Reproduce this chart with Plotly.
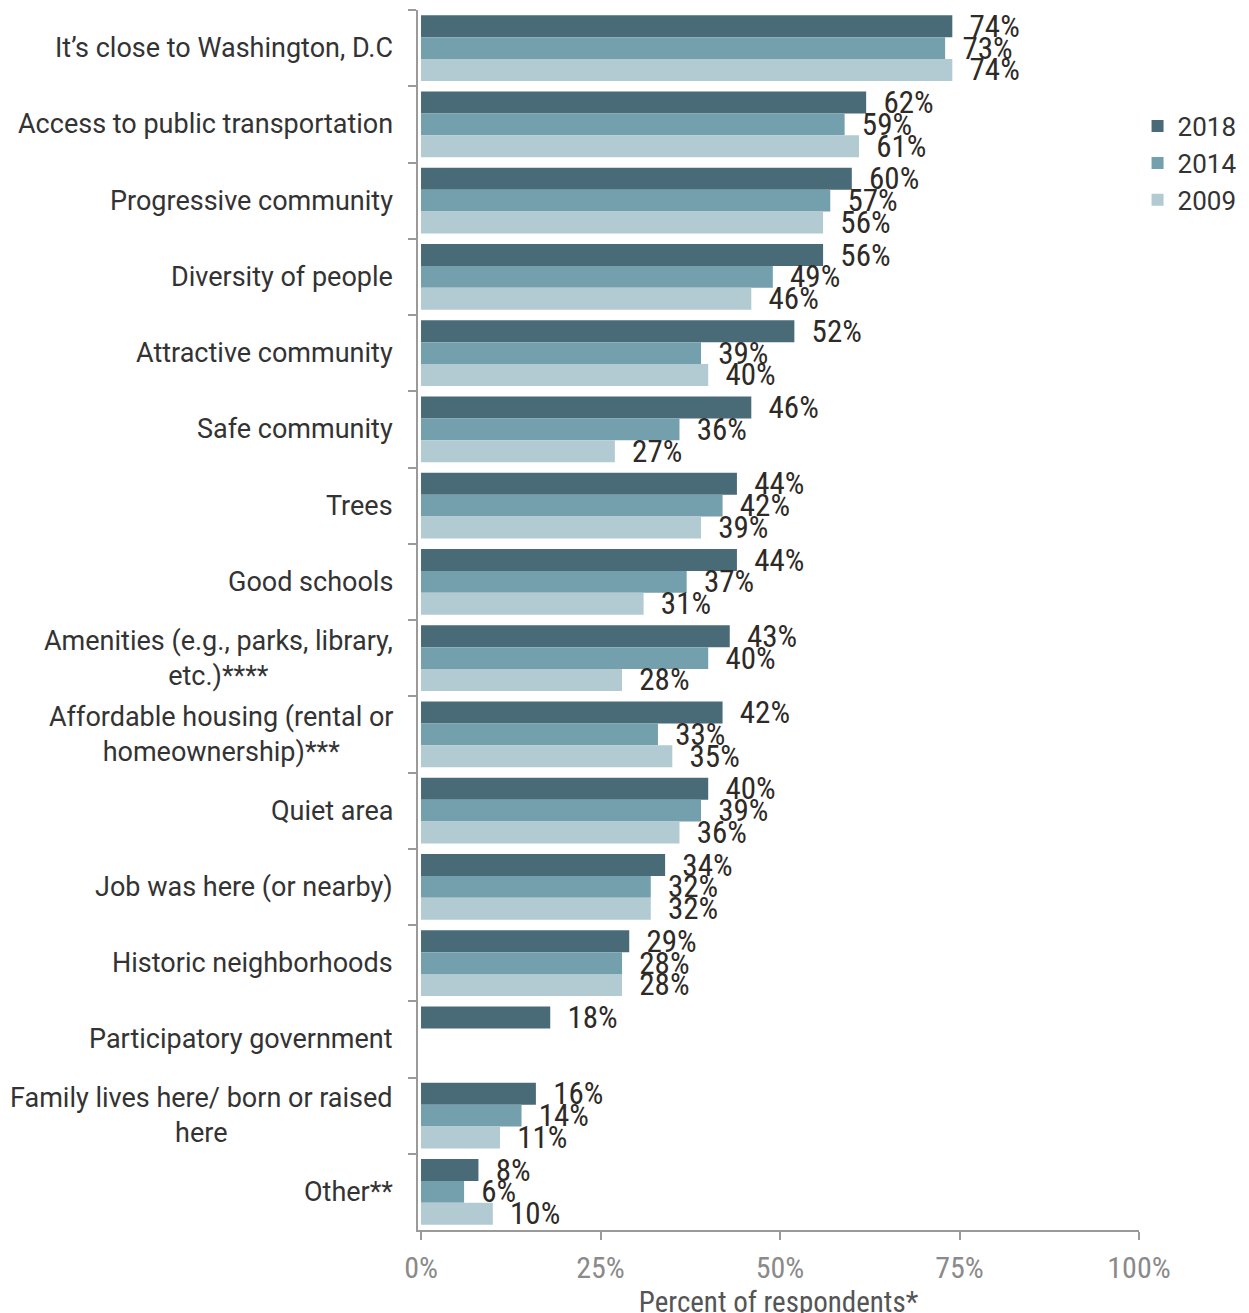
import plotly.graph_objects as go

categories = [
    "It’s close to Washington, D.C",
    "Access to public transportation",
    "Progressive community",
    "Diversity of people",
    "Attractive community",
    "Safe community",
    "Trees",
    "Good schools",
    "Amenities (e.g., parks, library,<br>etc.)****",
    "Affordable housing (rental or<br>homeownership)***",
    "Quiet area",
    "Job was here (or nearby)",
    "Historic neighborhoods",
    "Participatory government",
    "Family lives here/ born or raised<br>here",
    "Other**",
]
values_2018 = [74, 62, 60, 56, 52, 46, 44, 44, 43, 42, 40, 34, 29, 18, 16, 8]
values_2014 = [73, 59, 57, 49, 39, 36, 42, 37, 40, 33, 39, 32, 28, None, 14, 6]
values_2009 = [74, 61, 56, 46, 40, 27, 39, 31, 28, 35, 36, 32, 28, None, 11, 10]
series_names = ["2018", "2014", "2009"]
series_values = [values_2018, values_2014, values_2009]
colors = ["#496b78", "#74a0ae", "#b2cad2"]
x_ticks = [0, 25, 50, 75, 100]
x_tick_labels = ["0%", "25%", "50%", "75%", "100%"]

COND = "Roboto Condensed, Liberation Sans Narrow, Arial Narrow, Roboto, sans-serif"
ROBOTO = "Roboto, sans-serif"

fig = go.Figure()
for name, vals, col in zip(series_names, series_values, colors):
    fig.add_trace(go.Bar(
        y=categories, x=vals, name=name, orientation="h",
        marker=dict(color=col, line=dict(width=0)),
        text=[f"{v}%" if v is not None else "" for v in vals],
        texttemplate="\u00a0\u00a0%{text}",
        textposition="outside", constraintext="none", cliponaxis=False,
        textfont=dict(family=COND, size=31, color="#2e2a26"),
        hoverinfo="skip",
    ))

for c in categories:
    fig.add_annotation(
        x=0, xref="paper", xshift=-23, xanchor="right",
        y=c, yref="y", yanchor="middle",
        text=c, align="center", showarrow=False,
        font=dict(family=ROBOTO, size=27, color="#333333"),
    )

# page body has an 8px default margin; margins compensate so the plot
# area lands at x 418..1139, y 10..1230 in the window
fig.update_layout(
    width=1249, height=1313,
    margin=dict(l=410, r=118, t=2, b=91, autoexpand=False),
    paper_bgcolor="white", plot_bgcolor="white",
    barmode="group", bargap=0.14, bargroupgap=0,
    showlegend=True,
    legend=dict(
        x=0.998, xanchor="left", y=0.924, yanchor="top",
        font=dict(family=ROBOTO, size=26, color="#333333"),
        itemwidth=30, tracegroupgap=0, traceorder="normal",
    ),
    xaxis=dict(
        range=[-0.42, 100], tickmode="array", tickvals=x_ticks, ticktext=x_tick_labels,
        showgrid=False, zeroline=False, automargin=False,
        showline=True, linecolor="#9a9a9a", linewidth=2,
        ticks="outside", ticklen=8, tickcolor="#9a9a9a", tickwidth=2,
        tickfont=dict(family=COND, size=30, color="#8a8a8a"),
        ticklabelstandoff=2,
        title=dict(text="Percent of respondents*", standoff=0,
                   font=dict(family=COND, size=29, color="#555555")),
    ),
    yaxis=dict(
        autorange="reversed", showticklabels=False, automargin=False,
        showgrid=False, zeroline=False,
        showline=True, linecolor="#9a9a9a", linewidth=2,
        ticks="outside", tickson="boundaries", ticklen=8,
        tickcolor="#9a9a9a", tickwidth=2,
    ),
)

fig.write_html("out.html")
